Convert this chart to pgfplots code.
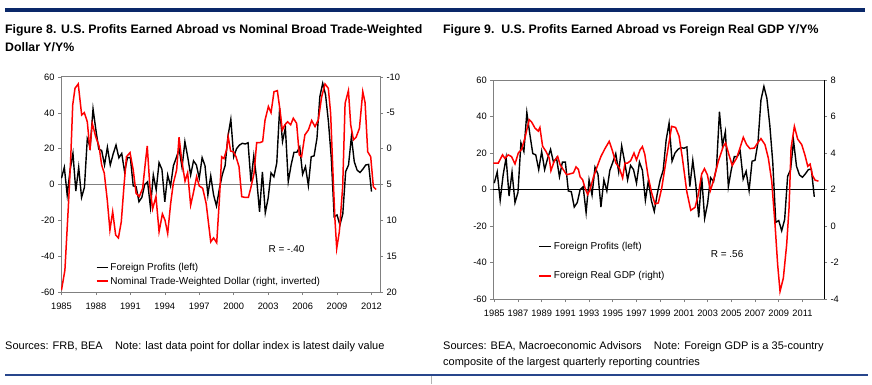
\documentclass[border=0pt]{standalone}
\usepackage{pgfplots}
\usepackage{pgfplotstable}
\pgfplotsset{compat=1.18}
\usepackage{fontspec}
\setmainfont{Liberation Sans}
\definecolor{navytop}{RGB}{10,40,105}
\definecolor{navybot}{RGB}{40,70,140}
\definecolor{axgray}{RGB}{128,128,128}
\definecolor{myred}{RGB}{255,0,0}

\pgfplotstableread{
x y
1985.00 3.5
1985.25 9.6
1985.50 -5.9
1985.75 8
1986.00 17.4
1986.25 -3.6
1986.50 9.6
1986.75 -7.2
1987.00 -1.6
1987.25 25.6
1987.50 20.8
1987.75 42.2
1988.00 30.4
1988.25 19.7
1988.50 19
1988.75 10.9
1989.00 20.8
1989.25 10.9
1989.50 17
1989.75 22
1990.00 14.9
1990.25 17.3
1990.50 7
1990.75 15
1991.00 15
1991.25 -0.8
1991.50 -1.2
1991.75 -9.6
1992.00 -7.2
1992.25 0
1992.50 1.5
1992.75 -12.7
1993.00 5.3
1993.25 -3
1993.50 12.2
1993.75 8.4
1994.00 -9.6
1994.25 5.3
1994.50 -0.8
1994.75 10.5
1995.00 14.9
1995.25 19.7
1995.50 9.6
1995.75 23.9
1996.00 15.2
1996.25 5.3
1996.50 13.2
1996.75 10.9
1997.00 3.5
1997.25 15
1997.50 10.5
1997.75 -5.9
1998.00 4.8
1998.25 -5.9
1998.50 -12
1998.75 -2.5
1999.00 5.3
1999.25 10.5
1999.50 27
1999.75 36.4
2000.00 15.5
2000.25 20
2000.50 22
2000.75 23
2001.00 22.6
2001.25 23.3
2001.50 1.6
2001.75 16
2002.00 3
2002.25 -15.2
2002.50 7
2002.75 -15.8
2003.00 -7.6
2003.25 6.5
2003.50 4.3
2003.75 12
2004.00 42.6
2004.25 24
2004.50 31.7
2004.75 1.6
2005.00 10.9
2005.25 18
2005.50 18
2005.75 21
2006.00 5.7
2006.25 10
2006.50 -0.6
2006.75 15.5
2007.00 16
2007.25 25.8
2007.50 49
2007.75 56.5
2008.00 50
2008.25 35
2008.50 14.6
2008.75 -18
2009.00 -17
2009.25 -22.6
2009.50 -16.4
2009.75 7.2
2010.00 10.9
2010.25 26.7
2010.50 12.7
2010.75 8
2011.00 6.7
2011.25 8.6
2011.50 10.9
2011.75 11.2
2012.00 -4
}\profits

\pgfplotstableread{
x y
1985.00 19.75
1985.30 16.95
1985.60 8.10
1985.80 1.58
1985.98 -6.10
1986.18 -8.43
1986.46 -9.03
1986.76 -4.70
1986.99 -5.03
1987.25 -3.75
1987.48 0.18
1987.68 -3.55
1987.98 -1.68
1988.27 -0.38
1988.50 2.28
1988.73 3.43
1988.99 7.18
1989.22 11.35
1989.46 8.80
1989.72 12.05
1989.96 12.45
1990.21 10.20
1990.44 5.30
1990.66 1.13
1990.97 0.55
1991.25 2.98
1991.50 6.23
1991.78 6.68
1992.07 5.53
1992.30 2.05
1992.47 -0.38
1992.70 5.30
1992.94 8.40
1993.23 6.68
1993.50 11.58
1993.79 9.10
1994.02 10.00
1994.25 11.83
1994.51 7.63
1994.74 4.85
1995.03 2.98
1995.24 -1.60
1995.47 1.58
1995.76 4.53
1995.99 3.35
1996.25 7.88
1996.48 6.23
1996.77 3.90
1997.00 5.20
1997.30 5.53
1997.60 7.63
1998.00 13.00
1998.25 12.45
1998.52 13.13
1998.75 7.18
1998.95 1.13
1999.15 1.38
1999.38 0.13
1999.52 -1.68
1999.73 0.33
1999.97 0.43
2000.20 1.13
2000.46 2.50
2000.70 6.70
2000.99 6.80
2001.28 6.80
2001.48 5.53
2001.77 3.43
2002.00 -0.85
2002.30 -0.85
2002.52 -1.00
2002.73 -4.00
2003.02 -5.88
2003.25 -5.03
2003.51 -7.95
2003.80 -8.10
2004.03 -5.40
2004.23 -2.60
2004.46 -3.33
2004.70 -3.75
2004.96 -3.33
2005.19 -4.25
2005.48 -3.53
2005.71 0.88
2005.91 1.13
2006.20 -1.93
2006.50 -2.60
2006.79 -3.93
2007.08 -3.08
2007.37 -4.00
2007.66 -7.25
2007.95 -9.03
2008.24 -8.43
2008.44 -4.95
2008.68 4.85
2008.82 9.95
2008.97 13.93
2009.20 11.58
2009.49 5.30
2009.70 -6.33
2009.99 -8.10
2010.19 -3.33
2010.43 -1.23
2010.66 -1.60
2010.95 -2.85
2011.24 -7.95
2011.44 -6.43
2011.67 0.43
2011.93 1.13
2012.16 5.30
2012.40 5.70
}\dollar

\pgfplotstableread{
x y
1984.92 3.45
1985.34 3.45
1985.70 3.90
1985.90 3.70
1986.18 3.90
1986.46 3.80
1986.75 3.40
1987.03 4.00
1987.31 4.20
1987.60 4.86
1987.95 5.83
1988.15 5.70
1988.43 5.37
1988.71 5.20
1988.85 5.40
1989.08 4.37
1989.36 4.09
1989.64 3.72
1989.78 3.03
1990.06 3.55
1990.35 3.81
1990.55 3.37
1990.83 3.08
1991.11 2.81
1991.40 2.86
1991.68 2.91
1991.90 3.24
1992.10 3.10
1992.24 2.70
1992.46 2.53
1992.66 2.08
1992.88 1.72
1993.08 2.00
1993.36 2.66
1993.64 3.18
1994.00 3.81
1994.34 4.24
1994.70 4.64
1994.98 4.10
1995.26 3.45
1995.54 3.20
1995.83 2.63
1996.03 3.45
1996.25 3.45
1996.51 3.58
1996.79 4.00
1997.00 3.62
1997.30 4.17
1997.50 4.35
1997.70 3.93
1997.98 2.72
1998.28 1.81
1998.56 1.21
1998.84 1.26
1999.13 2.08
1999.55 3.82
1999.97 5.46
2000.30 5.40
2000.59 4.92
2000.87 3.73
2001.24 1.90
2001.58 0.86
2001.94 1.02
2002.22 1.72
2002.50 2.85
2002.73 3.14
2002.98 2.81
2003.23 1.94
2003.48 2.45
2003.90 3.54
2004.33 4.37
2004.52 4.55
2004.80 3.90
2005.08 3.32
2005.45 3.72
2005.73 4.27
2006.01 4.86
2006.29 4.46
2006.57 4.24
2006.94 4.27
2007.22 4.55
2007.50 4.79
2007.84 4.46
2008.12 3.73
2008.41 2.45
2008.69 0.07
2008.91 -2.12
2009.11 -3.58
2009.39 -2.85
2009.67 -1.02
2009.87 0.99
2010.04 4.27
2010.32 5.46
2010.60 4.76
2010.94 4.46
2011.22 3.87
2011.45 3.27
2011.65 3.39
2011.84 2.78
2012.07 2.51
2012.35 2.46
}\gdp

\pgfplotsset{
  chart/.style={
    scale only axis,
    anchor=south west,
    /pgf/number format/assume math mode=true,
    /pgf/number format/1000 sep={},
    tick label style={font=\fontsize{9.3}{10}\selectfont, text=black},
    tick align=outside,
    major tick length=3pt,
    tick style={axgray, line width=0.6pt},
    axis line style={axgray, line width=1pt},
    xticklabel style={yshift=-4.5pt},
    legend cell align=left,
  },
}

\begin{document}
\begin{tikzpicture}[x=1pt,y=1pt]
\useasboundingbox (0,0) rectangle (872,384);
\fill[white] (0,0) rectangle (872,384);
\fill[navytop] (5,372.3) rectangle (865,376);
\fill[navybot] (5,8) rectangle (868,10.5);
\draw[gray!60, line width=0.6pt] (431,0) -- (431,8);

\node[anchor=base west, inner sep=0pt, font=\fontsize{12.3}{15}\selectfont\bfseries] at (5,350.7) {Figure 8. U.S. Profits Earned Abroad vs Nominal Broad Trade-Weighted};
\node[anchor=base west, inner sep=0pt, font=\fontsize{12.3}{15}\selectfont\bfseries] at (5,332.3) {Dollar Y/Y\%};
\node[anchor=base west, inner sep=0pt, font=\fontsize{12.3}{15}\selectfont\bfseries] at (443,350.7) {Figure 9.\ \ U.S. Profits Earned Abroad vs Foreign Real GDP Y/Y\%};

\node[anchor=base west, inner sep=0pt, font=\fontsize{11}{13}\selectfont] at (5,35) {Sources: FRB, BEA\ \ \ \ Note: last data point for dollar index is latest daily value};
\node[anchor=base west, inner sep=0pt, font=\fontsize{11}{13}\selectfont] at (443,35) {Sources: BEA, Macroeconomic Advisors\ \ \ \ Note: Foreign GDP is a 35-country};
\node[anchor=base west, inner sep=0pt, font=\fontsize{11}{13}\selectfont] at (443,19) {composite of the largest quarterly reporting countries};

% ---------- Figure 8 ----------
\begin{axis}[chart, at={(61pt,92pt)}, width=319pt, height=215pt,
  xmin=1984.96, xmax=2012.74, ymin=-60, ymax=60,
  xtick={1985,1988,...,2012}, ytick={-60,-40,...,60},
  xtick pos=bottom, ytick pos=left,
  extra y ticks={0}, extra y tick labels={},
  extra y tick style={grid=major, major grid style={axgray, line width=1.1pt}, major tick length=0pt},
]
\addplot[black, line width=1.4pt] table[x=x,y=y] {\profits};
\node[font=\fontsize{10}{12}\selectfont] at (axis description cs:0.707,0.2) {R = -.40};
\end{axis}
\begin{axis}[chart, at={(61pt,92pt)}, width=319pt, height=215pt,
  xmin=1984.96, xmax=2012.74, ymin=-10, ymax=20, y dir=reverse,
  axis x line=none, axis y line*=right, ytick={-10,-5,...,20},
  legend style={at={(axis description cs:0.109,0.145)}, anchor=north west, draw=none, fill=none,
    inner sep=0pt, row sep=1pt, font=\fontsize{10}{12}\selectfont},
  legend image code/.code={\draw[#1] (0pt,0pt) -- (11pt,0pt);},
]
\addlegendimage{black, line width=1.4pt}
\addlegendentry{Foreign Profits (left)}
\addlegendimage{myred, line width=1.5pt}
\addlegendentry{Nominal Trade-Weighted Dollar (right, inverted)}
\addplot[myred, line width=1.5pt, forget plot] table[x=x,y=y] {\dollar};
\end{axis}

% ---------- Figure 9 ----------
\begin{axis}[chart, at={(493.3pt,85pt)}, width=330.7pt, height=219pt,
  xmin=1984.92, xmax=2012.82, ymin=-60, ymax=60,
  xtick={1985,1987,...,2011}, ytick={-60,-40,...,60},
  xtick pos=bottom, ytick pos=left,
  extra y ticks={0}, extra y tick labels={},
  extra y tick style={grid=major, major grid style={black, line width=0.7pt}, major tick length=0pt},
]
\addplot[black, line width=1.4pt] table[x=x,y=y] {\profits};
\node[font=\fontsize{10}{12}\selectfont] at (axis description cs:0.707,0.205) {R = .56};
\end{axis}
\begin{axis}[chart, at={(493.3pt,85pt)}, width=330.7pt, height=219pt,
  xmin=1984.92, xmax=2012.82, ymin=-4, ymax=8,
  axis x line=none, axis y line*=right, ytick={-4,-2,...,8},
  y axis line style={black},
  legend style={at={(axis description cs:0.136,0.269)}, anchor=north west, draw=none, fill=none,
    inner sep=0pt, row sep=1pt, font=\fontsize{10}{12}\selectfont},
  legend image code/.code={\draw[#1] (0pt,0pt) -- (12pt,0pt);},
]
\addlegendimage{black, line width=1.4pt}
\addlegendentry{Foreign Profits (left)}
\addlegendimage{empty legend}
\addlegendentry{\rule{0pt}{9pt}}
\addlegendimage{myred, line width=1.5pt}
\addlegendentry{Foreign Real GDP (right)}
\addplot[myred, line width=1.5pt, forget plot] table[x=x,y=y] {\gdp};
\end{axis}
\end{tikzpicture}
\end{document}
